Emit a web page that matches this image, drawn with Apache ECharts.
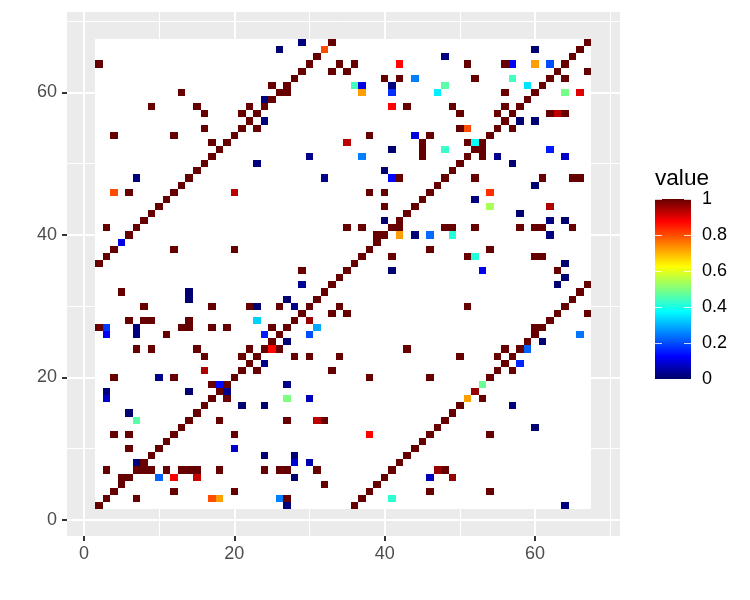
<!DOCTYPE html>
<html>
<head>
<meta charset="utf-8">
<style>html,body{margin:0;padding:0;background:#fff}#chart{width:750px;height:600px}</style>
<script src="https://cdn.jsdelivr.net/npm/echarts@6/dist/echarts.min.js"></script>
</head>
<body>
<div id="chart"></div>
<script>
// cells with value 1, listed per row
const fullRowY = [67,66,65,64,63,62,61,60,59,58,57,56,55,54,53,52,51,50,49,48,47,46,45,44,43,42,41,40,39,38,37,36,35,34,33,32,31,30,29,28,27,26,25,24,23,22,21,20,19,18,17,16,15,14,13,12,11,10,9,8,7,6,5,4,3,2];
const fullRowX = [
  [33,67],[66],[31,65],[2,30,34,36,51,56,64],[29,33,35,63,67],[28,40,42,52,62,64],[25,27,61],[13,26,27,56,60],
  [25,59],[9,15,22,24,43,49,56,58],[16,21,23,50,55,57,62,64],[22,56],[16,21,23,50,55,57],[4,12,20,38,46,54],
  [17,19,45,51,53],[18,45,52,53],[17,45,51,53],[16,50],[15,49],[14,42,48,52,61,65,66],[13,47],[6,12,38,40,46],
  [11,45],[10,40,44],[9,43],[8,42],[3,7,35,37,41,42,48,49,52,58,60,61,65],[6,39,40],[39],[4,12,20,38,46,54],
  [3,37,41,51,60,61],[2,36],[29,35,63],[34],[33,67],[5,32,66],[31,65],[8,17,22,26,30,34,51,64],[29,33,35,63,67],
  [6,8,9,14,28,62],[2,13,14,17,19,25,27,60,61],[11,26,60],[25,59],[7,9,15,22,24,26,43,56,58],
  [16,21,23,28,30,34,50,55,57],[22,56],[21,23,33,55,57],[4,12,20,38,46,54],[17,19],[18],[17,19,53],[16,50],[15,49],
  [14,18,27,32,48],[13,47],[4,6,12,20,46,54],[11,45],[6,10,44],[9,43],[8,42],
  [3,7,8,9,11,13,14,15,18,24,26,27,31,41,48],[5,6,40],[5,32,39],[4,12,20,38,46,54],[3,7,27,37],[2,36]
];
// cells below 1: [x, y, value]
const navyCells = [
  [23,50,.02],[7,48,.02],[29,67,.02],[26,66,.01],[41,61,.02],[24,59,.02],[24,56,.02],[41,52,.01],[30,51,.03],
  [40,49,.01],[32,48,.03],[60,66,.01],[48,65,.02],[58,56,.01],[60,56,.01],[55,51,.03],[57,50,.01],[60,47,.01],
  [14,32,.01],[14,31,.01],[23,30,.01],[7,27,.02],[7,26,.02],[40,42,.01],[44,40,.01],[41,35,.01],[29,33,.04],
  [27,31,.01],[28,30,.03],[27,25,.01],[52,45,.02],[58,43,.01],[62,42,.02],[64,42,.01],[62,40,.02],[64,36,.01],
  [64,34,.01],[63,33,.01],[61,25,.01],[10,20,.03],[3,18,.02],[19,18,.03],[14,18,.01],[21,16,.01],[6,15,.01],
  [7,8,.02],[24,22,.03],[27,19,.03],[24,16,.01],[24,9,.01],[28,9,.01],[28,6,.01],[27,2,.02],[57,16,.02],
  [60,13,.01],[64,2,.02]
];
const colourCells = [
  [4,46,.8],[20,46,.93],[32,66,.8],[42,64,.87],[44,62,.25],[36,61,.44],[37,61,.1],[37,60,.72],[41,60,.17],
  [41,58,.875],[44,54,.1],[35,53,.93],[37,51,.25],[41,48,.13],[57,64,.125],[60,64,.72],[62,64,.2],[57,62,.44],
  [48,61,.46],[59,61,.35],[47,60,.36],[64,60,.49],[66,60,.9],[63,57,.93],[51,55,.8],[52,53,.38],[48,52,.43],
  [62,52,.15],[64,51,.08],[54,46,.83],[5,39,.1],[23,28,.33],[3,27,.18],[3,26,.12],[42,40,.72],[30,28,.96],
  [31,27,.29],[24,26,.15],[30,26,.2],[25,24,.87],[54,44,.54],[62,44,.94],[46,40,.23],[49,40,.41],[52,37,.41],
  [53,35,.11],[66,26,.24],[59,24,.22],[16,21,.94],[18,19,.13],[3,17,.08],[7,14,.46],[20,10,.08],[10,6,.22],
  [12,6,.88],[15,6,.92],[17,3,.8],[18,3,.72],[27,17,.5],[30,17,.07],[31,14,.93],[38,12,.875],[28,8,.09],
  [30,8,.06],[26,3,.25],[41,3,.42],[58,22,.16],[53,19,.48],[52,18,.96],[51,17,.72],[47,7,.96],[46,6,.07],[49,6,.96]
];
const jetColours = ['#000066','#0000FF','#007FFF','#00FFFF','#7FFF7F','#FFFF00','#FF7F00','#FF0000','#660000'];
const majorTicks = [0, 20, 40, 60];
const minorTicks = [10, 30, 50, 70];
const cellRange = [1.5, 67.5];
const xyLimits = [-2.26, 71.3];

const cells = [];
fullRowY.forEach((y, i) => fullRowX[i].forEach(x => cells.push([x, y, 1])));
navyCells.concat(colourCells).forEach(c => cells.push(c));

const chart = echarts.init(document.getElementById('chart'), null, { renderer: 'canvas' });

// main axis of the panel, ticks at fixed values because the limits are not multiples of 20
function majorAxis(labelExtra) {
  return {
    gridIndex: 0, type: 'value', min: xyLimits[0], max: xyLimits[1],
    axisLine: { show: false, onZero: false },
    axisTick: { customValues: majorTicks, length: 5, lineStyle: { color: '#333', width: 2 } },
    axisLabel: Object.assign({ customValues: majorTicks, color: '#4D4D4D', fontSize: 18, fontFamily: 'Liberation Sans' }, labelExtra),
    splitLine: { customValues: majorTicks, lineStyle: { color: '#fff', width: 2 } }
  };
}
// second axis only for the thin grid lines
const minorAxis = {
  gridIndex: 0, type: 'value', min: xyLimits[0], max: xyLimits[1],
  axisLine: { show: false, onZero: false },
  axisTick: { customValues: minorTicks, show: false },
  axisLabel: { show: false },
  splitLine: { customValues: minorTicks, lineStyle: { color: '#fff', width: 1 } }
};

function rectBetween(api, a, b) {
  const p0 = api.coord(a);
  const p1 = api.coord(b);
  const x = Math.round(Math.min(p0[0], p1[0]));
  const y = Math.round(Math.min(p0[1], p1[1]));
  return {
    x: x, y: y,
    width: Math.round(Math.max(p0[0], p1[0])) - x,
    height: Math.round(Math.max(p0[1], p1[1])) - y
  };
}

const barTick = { inside: true, length: 7, lineStyle: { color: 'rgba(255,255,255,0.8)', width: 1 } };

const option = {
  animation: false,
  grid: [
    { left: 67, right: 130, top: 12, bottom: 64, show: true, backgroundColor: '#EBEBEB', borderWidth: 0 },
    { left: 655, top: 199, width: 36, height: 180 }
  ],
  xAxis: [
    majorAxis({ margin: 9 }),
    minorAxis,
    { gridIndex: 1, type: 'value', min: 0, max: 1, show: false }
  ],
  yAxis: [
    majorAxis({ margin: 10, padding: [3, 0, 0, 0] }),
    minorAxis,
    {
      gridIndex: 1, type: 'value', min: 0, max: 1, interval: 0.2, position: 'right', z: 5,
      axisLine: { show: false, onZero: false }, splitLine: { show: false }, axisTick: barTick,
      axisLabel: { color: '#000', fontSize: 18, fontFamily: 'Liberation Sans', margin: 11, padding: [6, 0, 0, 0] }
    },
    {
      gridIndex: 1, type: 'value', min: 0, max: 1, interval: 0.2, position: 'left', z: 5,
      axisLine: { show: false, onZero: false }, splitLine: { show: false }, axisLabel: { show: false }, axisTick: barTick
    }
  ],
  visualMap: { show: false, type: 'continuous', min: 0, max: 1, dimension: 2, seriesIndex: 1, inRange: { color: jetColours } },
  series: [
    {
      // NA cells come out white
      type: 'custom', silent: true, data: [[cellRange[0], cellRange[1]]],
      renderItem: (params, api) => ({
        type: 'rect',
        shape: rectBetween(api, [cellRange[0], cellRange[0]], [cellRange[1], cellRange[1]]),
        style: { fill: '#fff' }
      })
    },
    {
      type: 'custom', data: cells, encode: { x: 0, y: 1 },
      renderItem: (params, api) => ({
        type: 'rect',
        shape: rectBetween(api, [api.value(0) - 0.5, api.value(1) - 0.5], [api.value(0) + 0.5, api.value(1) + 0.5]),
        style: { fill: api.visual('color') }
      })
    },
    {
      // colour bar
      type: 'custom', xAxisIndex: 2, yAxisIndex: 2, silent: true, data: [[0, 1]],
      renderItem: (params, api) => ({
        type: 'rect',
        shape: rectBetween(api, [0, 0], [1, 1]),
        style: {
          fill: new echarts.graphic.LinearGradient(0, 1, 0, 0,
            jetColours.map((c, i) => ({ offset: i / (jetColours.length - 1), color: c })))
        }
      })
    }
  ],
  graphic: [{
    type: 'text', left: 655, top: 167,
    style: { text: 'value', fill: '#000', fontSize: 22.6, fontFamily: 'Liberation Sans' }
  }]
};

chart.setOption(option);
window.addEventListener('resize', () => chart.resize());
</script>
</body>
</html>
